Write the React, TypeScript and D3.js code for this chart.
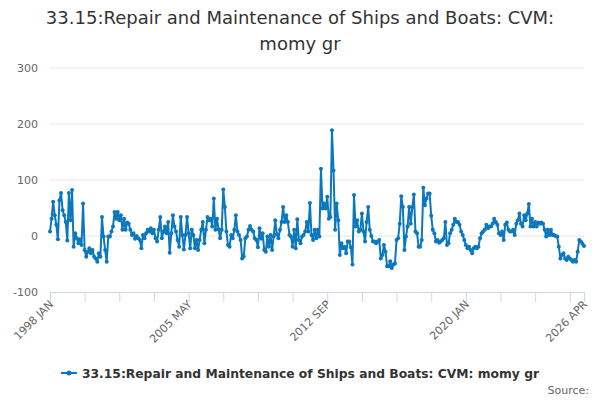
import * as d3 from 'd3';

// monthly series, 1998 JAN .. 2026 APR, split by stretch of the picture
const vals1998 = [8, 31, 61, 37, 20, -6, 64, 77, 46, 37, 25, -8, 77, 28, 82, -19, 5, -4, -13, -6, -16, 58, -25, -37, -28, -22, -31, -25, -37, -40, -46, -31, -37, 34, -1, -25, -46, -1, -1, 8, 17, 43, 31, 43, 28, 37, 11, 31, 11, 24, 22, 11, 2, 5, -5, 0];
const vals2002 = [-4, -7, -22, 2, -4, 5, 11, 8, 14, 5, 11, -4, -10, 11, 34, -4, 8, 17, 5, 25, -30, 5, 37, 17, 8, -7, -19, 34, 2, -24, 2, 34, 5, -22, 11, 2, -22, -7, -25, -7, 11, 25, -13, 11, 34, 28, 31, 17, 67, 11, 31, 12, -4, 11, 83, 52];
const vals2007 = [8, -16, -19, 2, -4, 11, 37, 8, 2, -7, -40, -36, -4, -1, 11, 18, 11, 8, -4, -7, -20, 14, -5, 5, -25, -28, -1, -19, 2, -25, -1, 28, 3, -4, 11, 25, 52, 25, 37, 25, 2, -1, -19, 11, -22, 30, -7, -13, -1, 2, 8, 25, 8, 59, 2, -7, 11, -4];
const vals2012 = [11, -1, 120, 49, 58, 49, 70, 31, 34, 189, 117, 11, 58, 28, -34, -13, -22, -19, -31, -10, -10, -20, -51, 73, 17, 28, 8, 11, 40, 8, -10, 25, 52, 11, 0, -10, -10, -13, -10, -7, -40, -34, -16, -28, -54, -54, -45, -57, -51, -49, -7, -4, 22, 71, 52, -25, -1, 17];
const vals2017 = [52, 22, 52, 74, 8, 5, -19, -19, -7, 86, 55, 67, 76, 76, 36, 11, 5, -10, -7, -12, -10, -7, -4, 25, -16, -13, 5, 11, 20, 31, 25, 25, 20, 8, 2, -7, -16, -22, -19, -25, -31, -22, -19, -22, -19, -4, 5, 8, 11, 20, 14, 17, 17, 22, 31, 25, 20];
const vals2021 = [5, 2, 8, -7, 20, 24, 11, 8, 8, 11, 2, 22, 28, 40, 22, 17, 37, 28, 40, 57, 17, 31, 17, 25, 17, 24, 22, 24, 22, 11, -1, 11, 2, 11, 2, 2, 0, -1, -19, -40, -34, -31, -40, -43, -37, -40, -43, -46, -43, -46, -28, -7, -10, -14, -18];

const values = [...vals1998, ...vals2002, ...vals2007, ...vals2012, ...vals2017, ...vals2021];

const months = ['JAN', 'FEB', 'MAR', 'APR', 'MAY', 'JUN', 'JUL', 'AUG', 'SEP', 'OCT', 'NOV', 'DEC'];
const startYear = 1998;
const categories = values.map((_, i) => `${startYear + Math.floor(i / 12)} ${months[i % 12]}`);

const xLabels = ['1998 JAN', '2005 MAY', '2012 SEP', '2020 JAN', '2026 APR'];
const yTicks = [-100, 0, 100, 200, 300];
const tickEvery = 22;

const titleLines = ['33.15:Repair and Maintenance of Ships and Boats: CVM:', 'momy gr'];
const seriesName = '33.15:Repair and Maintenance of Ships and Boats: CVM: momy gr';

const W = 600;
const H = 400;
const FONT = '"DejaVu Sans", Verdana, sans-serif';
const BLUE = '#0b78be';

export default function App() {
  const margin = { left: 50, right: 16, top: 68, bottom: 108 };
  const x = d3.scaleLinear().domain([0, values.length - 1]).range([margin.left, W - margin.right]);
  const y = d3.scaleLinear().domain([-100, 300]).range([H - margin.bottom, margin.top]);

  const line = d3.line<number>()
    .x((_, i) => x(i))
    .y(d => y(d));

  const ticks = d3.range(0, values.length, tickEvery);
  ticks.push(values.length - 1);

  return (
    <svg width={W} height={H} style={{ position: 'absolute', left: 0, top: 0, background: '#fff' }} fontFamily={FONT}>
      {/* title */}
      {titleLines.map((t, i) => (
        <text key={t} x={W / 2} y={24 + i * 26} textAnchor="middle" fontSize={18} fill="#333">{t}</text>
      ))}

      {/* grid + y labels */}
      {yTicks.map(t => (
        <g key={t}>
          {t !== -100 && (
            <line x1={margin.left} x2={W - margin.right} y1={y(t)} y2={y(t)} stroke="#e6e6e6" />
          )}
          <text x={38} y={y(t) + 4} textAnchor="end" fontSize={11} fill="#666">{t}</text>
        </g>
      ))}

      {/* x axis */}
      <line x1={margin.left} x2={W - margin.right} y1={y(-100) + 0.5} y2={y(-100) + 0.5} stroke="#ccd6eb" />
      {ticks.map(i => (
        <line key={i} x1={x(i) + 0.5} x2={x(i) + 0.5} y1={y(-100)} y2={y(-100) + 10} stroke="#ccd6eb" />
      ))}
      {xLabels.map(l => {
        const i = categories.indexOf(l);
        return (
          <text key={l} transform={`translate(${x(i) + 4},${y(-100) + 13}) rotate(-45)`} textAnchor="end" fontSize={11} fill="#666">{l}</text>
        );
      })}

      {/* series */}
      <path d={line(values) ?? ''} fill="none" stroke={BLUE} strokeWidth={2} strokeLinejoin="round" />
      {values.map((v, i) => (
        <circle key={i} cx={x(i)} cy={y(v)} r={2} fill={BLUE} />
      ))}

      {/* legend */}
      <line x1={61} x2={77} y1={373} y2={373} stroke={BLUE} strokeWidth={2} />
      <circle cx={69} cy={373} r={2.5} fill={BLUE} />
      <text x={82} y={377.5} fontSize={12.3} fontWeight="bold" fill="#333">{seriesName}</text>

      <text x={589} y={394} textAnchor="end" fontSize={11} fill="#666">Source:</text>
    </svg>
  );
}
